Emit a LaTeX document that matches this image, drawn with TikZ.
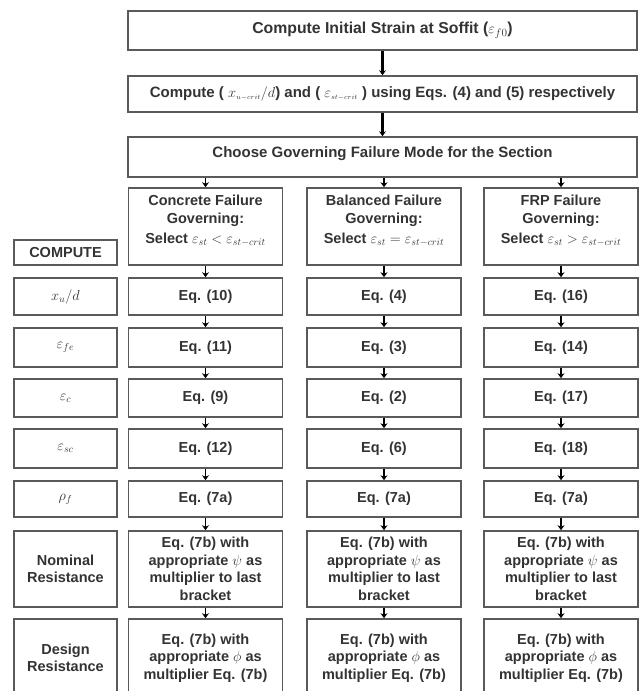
\documentclass[tikz,border=0pt]{standalone}
\usepackage{fontspec}
\setmainfont{Liberation Sans}
\usepackage{amsmath}
\usetikzlibrary{arrows.meta}
\definecolor{boxline}{HTML}{5A5A5A}
\definecolor{boxtext}{HTML}{333333}

\begin{document}
\begin{tikzpicture}[x=1pt, y=-1pt, >={Stealth[length=5pt,width=7pt]},
  cellbox/.style={draw=boxline, line width=1.6pt, inner sep=0pt, align=center, text=boxtext,
    font=\bfseries\fontsize{14.5}{17.5}\selectfont, minimum width=154pt},
  widebox/.style={cellbox, minimum width=509pt, font=\bfseries\fontsize{15}{18}\selectfont},
  rowbox/.style={cellbox, minimum width=103pt},
  flow/.style={->, line width=1.6pt},
  mainflow/.style={->, line width=2.6pt}]

% Page frame
\clip (0,0) rectangle (641,691);

% Main steps
\node[widebox, minimum height=39pt, font=\bfseries\fontsize{15.8}{18}\selectfont] (strain) at (382.5,30.5) {Compute Initial Strain at Soffit ($\varepsilon_{f0}$)};
\node[widebox, minimum height=36pt] (crit) at (382.5,94) {Compute ( $x_{\scriptscriptstyle u-crit}/d$) and ( $\varepsilon_{\scriptscriptstyle st-crit}$ ) using Eqs. (4) and (5) respectively};
\node[widebox, minimum height=40pt] (mode) at (382.5,157) {Choose Governing Failure Mode for the Section\\[-9pt]\mbox{}};

% Failure modes
\node[cellbox, minimum height=77pt] (conc) at (205.5,226.5) {Concrete Failure\\Governing:\\[3pt]Select $\varepsilon_{st} < \varepsilon_{st-crit}$\\[-3pt]\mbox{}};
\node[cellbox, minimum height=77pt] (bal) at (384,226.5) {Balanced Failure\\Governing:\\[3pt]Select $\varepsilon_{st} = \varepsilon_{st-crit}$\\[-3pt]\mbox{}};
\node[cellbox, minimum height=77pt] (frp) at (561,226.5) {FRP Failure\\Governing:\\[3pt]Select $\varepsilon_{st} > \varepsilon_{st-crit}$\\[-3pt]\mbox{}};

% Row labels
\node[rowbox, minimum height=25pt] (compute) at (65.5,252.5) {COMPUTE};
\node[rowbox, minimum height=37pt] (lxd) at (65.5,296.5) {$x_u/d$};
\node[rowbox, minimum height=39pt] (lfe) at (65.5,347.5) {$\varepsilon_{fe}$};
\node[rowbox, minimum height=38pt] (lc) at (65.5,398) {$\varepsilon_c$};
\node[rowbox, minimum height=39pt] (lsc) at (65.5,448.5) {$\varepsilon_{sc}$};
\node[rowbox, minimum height=36pt] (lrho) at (65.5,499) {$\rho_f$};
\node[rowbox, minimum height=76pt] (lnom) at (65.5,569) {Nominal\\Resistance};
\node[rowbox, minimum height=78pt] (ldes) at (65.5,658) {Design\\Resistance};

% Concrete failure column
\node[cellbox, minimum height=37pt] (cxd) at (205.5,296.5) {Eq. (10)};
\node[cellbox, minimum height=39pt] (cfe) at (205.5,347.5) {Eq. (11)};
\node[cellbox, minimum height=38pt] (cc) at (205.5,398) {Eq. (9)};
\node[cellbox, minimum height=39pt] (csc) at (205.5,448.5) {Eq. (12)};
\node[cellbox, minimum height=36pt] (crho) at (205.5,499) {Eq. (7a)};
\node[cellbox, minimum height=76pt] (cnom) at (205.5,569) {Eq. (7b) with\\appropriate $\psi$ as\\multiplier to last\\bracket};
\node[cellbox, minimum height=78pt] (cdes) at (205.5,658) {Eq. (7b) with\\appropriate $\phi$ as\\multiplier Eq. (7b)};

% Balanced failure column
\node[cellbox, minimum height=37pt] (bxd) at (384,296.5) {Eq. (4)};
\node[cellbox, minimum height=39pt] (bfe) at (384,347.5) {Eq. (3)};
\node[cellbox, minimum height=38pt] (bc) at (384,398) {Eq. (2)};
\node[cellbox, minimum height=39pt] (bsc) at (384,448.5) {Eq. (6)};
\node[cellbox, minimum height=36pt] (brho) at (384,499) {Eq. (7a)};
\node[cellbox, minimum height=76pt] (bnom) at (384,569) {Eq. (7b) with\\appropriate $\psi$ as\\multiplier to last\\bracket};
\node[cellbox, minimum height=78pt] (bdes) at (384,658) {Eq. (7b) with\\appropriate $\phi$ as\\multiplier Eq. (7b)};

% FRP failure column
\node[cellbox, minimum height=37pt] (fxd) at (561,296.5) {Eq. (16)};
\node[cellbox, minimum height=39pt] (ffe) at (561,347.5) {Eq. (14)};
\node[cellbox, minimum height=38pt] (fc) at (561,398) {Eq. (17)};
\node[cellbox, minimum height=39pt] (fsc) at (561,448.5) {Eq. (18)};
\node[cellbox, minimum height=36pt] (frho) at (561,499) {Eq. (7a)};
\node[cellbox, minimum height=76pt] (fnom) at (561,569) {Eq. (7b) with\\appropriate $\psi$ as\\multiplier to last\\bracket};
\node[cellbox, minimum height=78pt] (fdes) at (561,658) {Eq. (7b) with\\appropriate $\phi$ as\\multiplier Eq. (7b)};

% Main arrows
\draw[mainflow] (strain) -- (crit);
\draw[mainflow] (crit) -- (mode);

% Branches
\draw[flow] (mode.south -| conc) -- (conc);
\draw[flow] (mode.south -| bal) -- (bal);
\draw[flow] (mode.south -| frp) -- (frp);

% Concrete arrows
\draw[flow] (conc) -- (cxd);
\draw[flow] (cxd) -- (cfe);
\draw[flow] (cfe) -- (cc);
\draw[flow] (cc) -- (csc);
\draw[flow] (csc) -- (crho);
\draw[flow] (crho) -- (cnom);
\draw[flow] (cnom) -- (cdes);

% Balanced arrows
\draw[flow] (bal) -- (bxd);
\draw[flow] (bxd) -- (bfe);
\draw[flow] (bfe) -- (bc);
\draw[flow] (bc) -- (bsc);
\draw[flow] (bsc) -- (brho);
\draw[flow] (brho) -- (bnom);
\draw[flow] (bnom) -- (bdes);

% FRP arrows
\draw[flow] (frp) -- (fxd);
\draw[flow] (fxd) -- (ffe);
\draw[flow] (ffe) -- (fc);
\draw[flow] (fc) -- (fsc);
\draw[flow] (fsc) -- (frho);
\draw[flow] (frho) -- (fnom);
\draw[flow] (fnom) -- (fdes);

\end{tikzpicture}
\end{document}
